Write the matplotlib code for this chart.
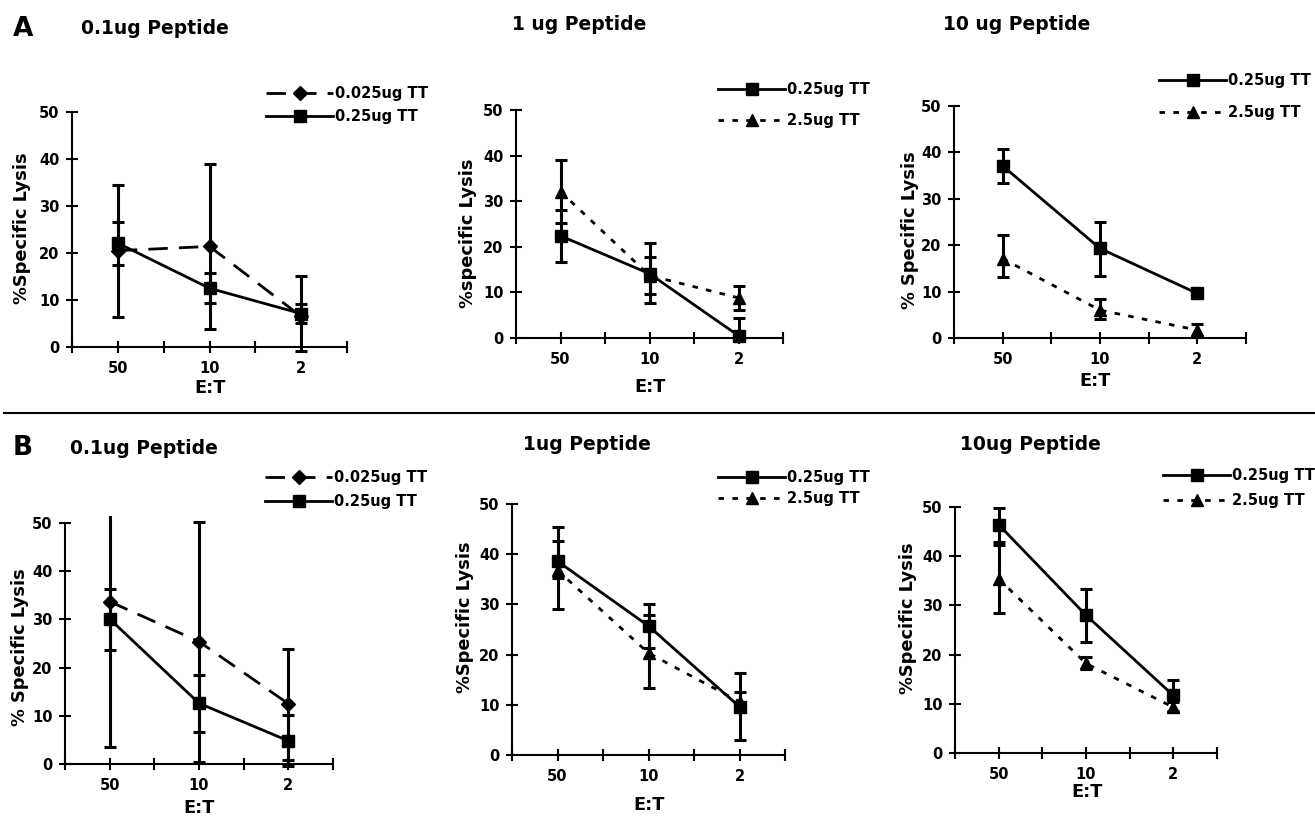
import numpy as np
import matplotlib
matplotlib.use("Agg")
import matplotlib.pyplot as plt
from matplotlib.lines import Line2D

plt.rcParams["font.family"] = ["DejaVu Sans"]
plt.rcParams["font.weight"] = "bold"

W, H = 1315, 818

et_labels = ["50", "10", "2"]

# panel A, 0.1ug peptide
a1_tt0025 = [20.5, 21.4, 6.5]
a1_tt0025_err = [(14.1, 14.0), (17.5, 17.6), (7.3, 8.7)]
a1_tt025 = [22.1, 12.5, 7.1]
a1_tt025_err = [(4.7, 4.5), (3.1, 3.2), (2.0, 2.0)]

# panel A, 1 ug peptide
a2_tt025 = [22.4, 14.1, 0.5]
a2_tt025_err = [(5.8, 5.7), (6.4, 6.7), (0.5, 3.9)]
a2_tt25 = [32.1, 13.7, 8.8]
a2_tt25_err = [(6.9, 7.0), (4.0, 4.0), (2.6, 2.7)]

# panel A, 10 ug peptide
a3_tt025 = [37.1, 19.3, 9.6]
a3_tt025_err = [(3.6, 3.6), (6.0, 5.7), (1.0, 1.0)]
a3_tt25 = [17.1, 6.0, 1.7]
a3_tt25_err = [(3.9, 5.0), (2.0, 2.5), (1.2, 1.4)]

# panel B, 0.1ug peptide
b1_tt0025 = [33.7, 25.4, 12.5]
b1_tt0025_err = [(30.1, 30.1), (24.9, 24.9), (11.7, 11.3)]
b1_tt025 = [30.1, 12.6, 4.8]
b1_tt025_err = [(6.4, 6.2), (5.9, 5.9), (5.2, 5.4)]

# panel B, 1ug peptide
b2_tt025 = [38.6, 25.7, 9.6]
b2_tt025_err = [(3.3, 6.8), (4.4, 4.4), (6.7, 6.8)]
b2_tt25 = [36.8, 20.3, 10.6]
b2_tt25_err = [(7.7, 5.8), (7.0, 7.6), (2.0, 2.0)]

# panel B, 10ug peptide
b3_tt025 = [46.4, 28.0, 11.7]
b3_tt025_err = [(3.5, 3.3), (5.4, 5.3), (3.2, 3.2)]
b3_tt25 = [35.4, 18.2, 9.3]
b3_tt25_err = [(6.9, 6.9), (1.1, 1.3), (1.0, 1.0)]

STYLES = {
    "0.025ug TT": dict(ls=(0, (7, 4)), marker="D", ms=7.5),
    "0.25ug TT": dict(ls="-", marker="s", ms=9),
    "2.5ug TT": dict(ls=(0, (2, 3)), marker="^", ms=9),
}

YLO, YHI = -1.5, 51.5


def fx(x):
    return x / W


def fy(y):
    return 1 - y / H


def make_axes(fig, left, right, y50, y0):
    ppu = (y0 - y50) / 50.0
    top = y50 - (YHI - 50) * ppu
    bottom = y0 - YLO * ppu
    ax = fig.add_axes([fx(left), fy(bottom), (right - left) / W, (bottom - top) / H])
    ax.set_xlim(0.5, 3.5)
    ax.set_ylim(YLO, YHI)
    for s in ["top", "right"]:
        ax.spines[s].set_visible(False)
    ax.spines["left"].set_bounds(0, 50)
    ax.spines["bottom"].set_position(("data", 0))
    for s in ["left", "bottom"]:
        ax.spines[s].set_linewidth(1.5)
    ax.set_xticks([1, 2, 3])
    ax.set_xticklabels(et_labels)
    ax.set_xticks([0.5, 1.5, 2.5, 3.5], minor=True)
    ax.set_yticks(range(0, 51, 10))
    ax.tick_params(axis="both", which="both", direction="inout", length=8, width=1.5,
                   labelsize=10.5)
    ax.tick_params(axis="x", pad=6)
    ax.tick_params(axis="y", pad=5)
    ax.patch.set_visible(False)
    return ax


def draw_series(ax, vals, errs, label):
    st = STYLES[label]
    x = np.arange(1, len(vals) + 1)
    e = np.array(errs).T
    ax.errorbar(x, vals, yerr=e, fmt="none", ecolor="black", elinewidth=2.2,
                capsize=4.3, capthick=2.2, zorder=2)
    line, = ax.plot(x, vals, color="black", lw=2, ls=st["ls"], marker=st["marker"],
                    ms=st["ms"], mfc="black", mec="black", label=label, zorder=3)
    return line


panels = [
    dict(box=(72, 347, 112, 347), title="0.1ug Peptide", tpos=(81, 29),
         ylabel="%Specific Lysis", ypos=(22, 228), xpos=(210, 388),
         series=[(a1_tt0025, a1_tt0025_err, "0.025ug TT"), (a1_tt025, a1_tt025_err, "0.25ug TT")],
         lpos=(266, 105), lsp=0.55),
    dict(box=(516, 783, 110, 338), title="1 ug Peptide", tpos=(512, 25),
         ylabel="%specific Lysis", ypos=(468, 233), xpos=(650, 387),
         series=[(a2_tt025, a2_tt025_err, "0.25ug TT"), (a2_tt25, a2_tt25_err, "2.5ug TT")],
         lpos=(718, 105), lsp=1.1),
    dict(box=(954, 1246, 106, 338), title="10 ug Peptide", tpos=(943, 24),
         ylabel="% Specific Lysis", ypos=(910, 230), xpos=(1095, 381),
         series=[(a3_tt025, a3_tt025_err, "0.25ug TT"), (a3_tt25, a3_tt25_err, "2.5ug TT")],
         lpos=(1159, 96.5), lsp=1.15),
    dict(box=(65, 333, 523, 764), title="0.1ug Peptide", tpos=(70, 448),
         ylabel="% Specific Lysis", ypos=(20, 647), xpos=(199, 808),
         series=[(b1_tt0025, b1_tt0025_err, "0.025ug TT"), (b1_tt025, b1_tt025_err, "0.25ug TT")],
         lpos=(265, 489.5), lsp=0.65),
    dict(box=(512, 785, 504, 755), title="1ug Peptide", tpos=(523, 445),
         ylabel="%Specific Lysis", ypos=(465, 617), xpos=(649, 805),
         series=[(b2_tt025, b2_tt025_err, "0.25ug TT"), (b2_tt25, b2_tt25_err, "2.5ug TT")],
         lpos=(718, 488), lsp=0.45),
    dict(box=(955, 1217, 507, 753), title="10ug Peptide", tpos=(960, 445),
         ylabel="%Specific Lysis", ypos=(908, 618), xpos=(1087, 792),
         series=[(b3_tt025, b3_tt025_err, "0.25ug TT"), (b3_tt25, b3_tt25_err, "2.5ug TT")],
         lpos=(1163, 488), lsp=0.7),
]

fig = plt.figure(figsize=(W / 100, H / 100), dpi=100)
fig.patch.set_facecolor("white")

for p in panels:
    ax = make_axes(fig, *p["box"])
    handles = [draw_series(ax, v, e, lab) for v, e, lab in p["series"]]
    ax.legend(handles=handles, loc="center left",
              bbox_to_anchor=(fx(p["lpos"][0]), fy(p["lpos"][1])),
              bbox_transform=fig.transFigure, frameon=False, fontsize=10.5,
              handlelength=4.6, handletextpad=0.15, borderpad=0, borderaxespad=0,
              labelspacing=p["lsp"], numpoints=1)
    fig.text(fx(p["tpos"][0]), fy(p["tpos"][1]), p["title"], fontsize=13.5,
             ha="left", va="center")
    fig.text(fx(p["ypos"][0]), fy(p["ypos"][1]), p["ylabel"], fontsize=12.8,
             rotation=90, ha="center", va="center")
    fig.text(fx(p["xpos"][0]), fy(p["xpos"][1]), "E:T", fontsize=12.8,
             ha="center", va="center")

fig.text(fx(13), fy(29), "A", fontsize=19, ha="left", va="center")
fig.text(fx(13), fy(448), "B", fontsize=19, ha="left", va="center")

fig.add_artist(Line2D([fx(4), 1.0], [fy(413), fy(413)], color="black", lw=1.5))

fig.savefig("out.png", dpi=100)
